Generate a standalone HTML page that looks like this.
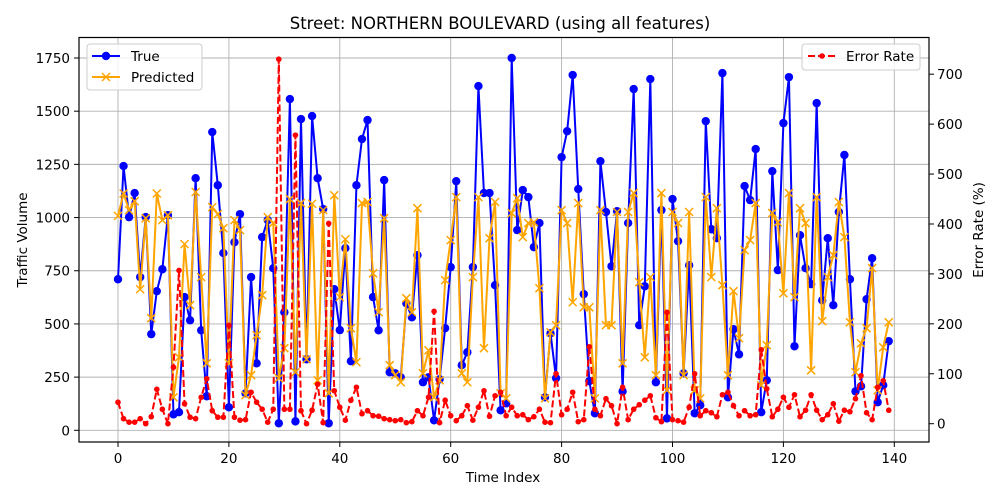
<!DOCTYPE html>
<html><head><meta charset="utf-8">
<style>
html,body{margin:0;padding:0;background:#fff;}
svg{display:block;font-family:"DejaVu Sans","Liberation Sans",sans-serif;}
</style></head>
<body>
<svg id="chart" width="1000" height="500" viewBox="0 0 1000 500">
  <rect x="0" y="0" width="1000" height="500" fill="#fff"/>
  <g id="grid"></g>
  <g id="series"></g>
  <rect x="79" y="37.5" width="850" height="404.5" fill="none" stroke="#000" stroke-width="1.2"/>
  <g id="axes" font-size="13.5" fill="#000"></g>
  <text x="500" y="29" text-anchor="middle" font-size="16.5">Street: NORTHERN BOULEVARD (using all features)</text>
  <text x="503" y="482" text-anchor="middle" font-size="13.5">Time Index</text>
  <text transform="translate(27,240) rotate(-90)" text-anchor="middle" font-size="13.5">Traffic Volume</text>
  <text transform="translate(983,230) rotate(-90)" text-anchor="middle" font-size="13.5">Error Rate (%)</text>
  <g>
    <rect x="87" y="44" width="115" height="46" rx="3" fill="#fff" fill-opacity="0.8" stroke="#ccc"/>
    <g>
      <line x1="92" y1="56" x2="120" y2="56" stroke="blue" stroke-width="2"/>
      <circle cx="106" cy="56" r="4.2" fill="blue"/>
      <text x="131" y="61" font-size="13.5">True</text>
    </g>
    <g>
      <line x1="92" y1="77" x2="120" y2="77" stroke="orange" stroke-width="2"/>
      <path d="M102,73 L110,81 M110,73 L102,81" stroke="orange" stroke-width="1.5"/>
      <text x="131" y="82" font-size="13.5">Predicted</text>
    </g>
  </g>
  <g>
    <rect x="802" y="44" width="118" height="26" rx="3" fill="#fff" fill-opacity="0.8" stroke="#ccc"/>
    <g>
      <line x1="808" y1="56" x2="836" y2="56" stroke="red" stroke-width="2" stroke-dasharray="7,3"/>
      <circle cx="822" cy="56" r="2.8" fill="red"/>
      <text x="846" y="61" font-size="13.5">Error Rate</text>
    </g>
  </g>
</svg>
<script>
const trueVals=[710,1242,1002,1115,720,1002,452,654,757,1011,75,85,626,517,1185,470,160,1402,1152,833,108,884,1016,174,720,315,908,988,762,33,555,1557,42,1463,334,1477,
1185,1040,33,663,471,856,325,1152,1369,1458,626,470,1176,273,268,249,597,531,823,226,249,47,240,480,767,1171,306,367,767,1618,1115,1115,682,94,127,1750,
941,1129,1096,861,974,155,456,245,1284,1406,1670,1134,640,231,80,1265,1026,771,1030,183,974,1604,494,677,1651,226,1035,56,1087,889,268,776,80,118,
1453,945,903,1679,155,475,357,1148,1082,1322,85,235,1218,753,1444,1660,395,917,762,687,1538,611,903,588,1026,1294,710,183,207,616,809,132,212,419];
const predVals=[1008,1113,1035,1077,663,997,527,1113,988,1011,155,343,875,588,1120,720,315,1049,1016,950,315,988,941,165,259,447,635,1002,974,245,386,1087,273,1068,334,1065,
235,1035,174,1105,626,898,480,320,1068,1073,738,555,997,306,259,226,621,555,1044,268,376,155,235,706,894,1096,268,226,720,1096,386,903,1073,174,150,1021,
1091,908,974,978,668,150,461,494,1035,974,602,1068,578,578,150,1035,494,494,1026,315,1026,1115,696,343,720,259,1115,188,1026,974,259,1026,188,150,
1096,720,1044,682,259,654,433,847,894,1068,212,400,1021,978,644,1115,626,1044,974,282,1096,513,720,823,1073,908,508,273,409,480,762,188,390,508];
const errVals=[43,10,3,3,10,0,14,69,29,0,113,307,40,13,10,53,90,26,13,13,197,13,7,8,63,43,29,3,29,730,29,29,578,26,0,27,
79,2,401,66,33,7,47,73,20,26,16,15,10,8,6,8,2,4,26,16,53,225,2,47,16,6,16,36,7,33,66,15,56,63,16,33,
16,18,8,14,29,3,2,100,18,29,63,4,8,154,29,16,50,36,0,73,8,29,38,47,56,12,4,223,8,6,3,33,100,16,
26,22,14,58,63,36,16,26,16,18,148,70,14,29,53,33,58,14,27,58,27,8,18,40,5,27,24,50,96,22,8,73,86,27];
const xTicks=[0,20,40,60,80,100,120,140];
const yTicks=[0,250,500,750,1000,1250,1500,1750];
const y2Ticks=[0,100,200,300,400,500,600,700];

const NS='http://www.w3.org/2000/svg';
const X=i=>118+i*5.545;
const Y=v=>430.3-v*(372.3/1750);
const Y2=v=>423.7-v*(349.5/700);
function mk(tag,attrs,parent){const e=document.createElementNS(NS,tag);for(const k in attrs)e.setAttribute(k,attrs[k]);parent.appendChild(e);return e;}
const grid=document.getElementById('grid'),axes=document.getElementById('axes'),series=document.getElementById('series');

xTicks.forEach(t=>{
  const gl=mk('line',{x1:X(t),x2:X(t),y1:37.5,y2:442,stroke:'#b0b0b0','stroke-width':0.9},grid);
  
  
  mk('line',{x1:X(t),x2:X(t),y1:442,y2:447,stroke:'#000'},axes);
  const tx=mk('text',{x:X(t),y:463,'text-anchor':'middle'},axes);tx.textContent=t;
  
  
});
yTicks.forEach(t=>{
  const gl=mk('line',{x1:79,x2:929,y1:Y(t),y2:Y(t),stroke:'#b0b0b0','stroke-width':0.9},grid);
  
  
  mk('line',{x1:74,x2:79,y1:Y(t),y2:Y(t),stroke:'#000'},axes);
  const tx=mk('text',{x:70,y:Y(t)+5,'text-anchor':'end'},axes);tx.textContent=t;
  
  
});
y2Ticks.forEach(t=>{
  mk('line',{x1:929,x2:934,y1:Y2(t),y2:Y2(t),stroke:'#000'},axes);
  const tx=mk('text',{x:937,y:Y2(t)+5,'text-anchor':'start'},axes);tx.textContent=t;
  
  
});

// true
const tl=mk('polyline',{points:trueVals.map((v,i)=>X(i)+','+Y(v)).join(' '),fill:'none',stroke:'blue','stroke-width':2,'stroke-linejoin':'round'},series);


trueVals.forEach((v,i)=>{
  const c=mk('circle',{cx:X(i),cy:Y(v),r:4.2,fill:'blue'},series);
  
  
});
// predicted
const pl=mk('polyline',{points:predVals.map((v,i)=>X(i)+','+Y(v)).join(' '),fill:'none',stroke:'orange','stroke-width':2,'stroke-linejoin':'round'},series);


predVals.forEach((v,i)=>{
  const x=X(i),y=Y(v);
  const m=mk('path',{d:`M${x-4},${y-4}L${x+4},${y+4}M${x+4},${y-4}L${x-4},${y+4}`,stroke:'orange','stroke-width':1.5},series);
  
  
});
// error
const el=mk('polyline',{points:errVals.map((v,i)=>X(i)+','+Y2(v)).join(' '),fill:'none',stroke:'red','stroke-width':2,'stroke-dasharray':'7,3'},series);


errVals.forEach((v,i)=>{
  const c=mk('circle',{cx:X(i),cy:Y2(v),r:2.8,fill:'red'},series);
  
  
});
</script>
</body></html>
